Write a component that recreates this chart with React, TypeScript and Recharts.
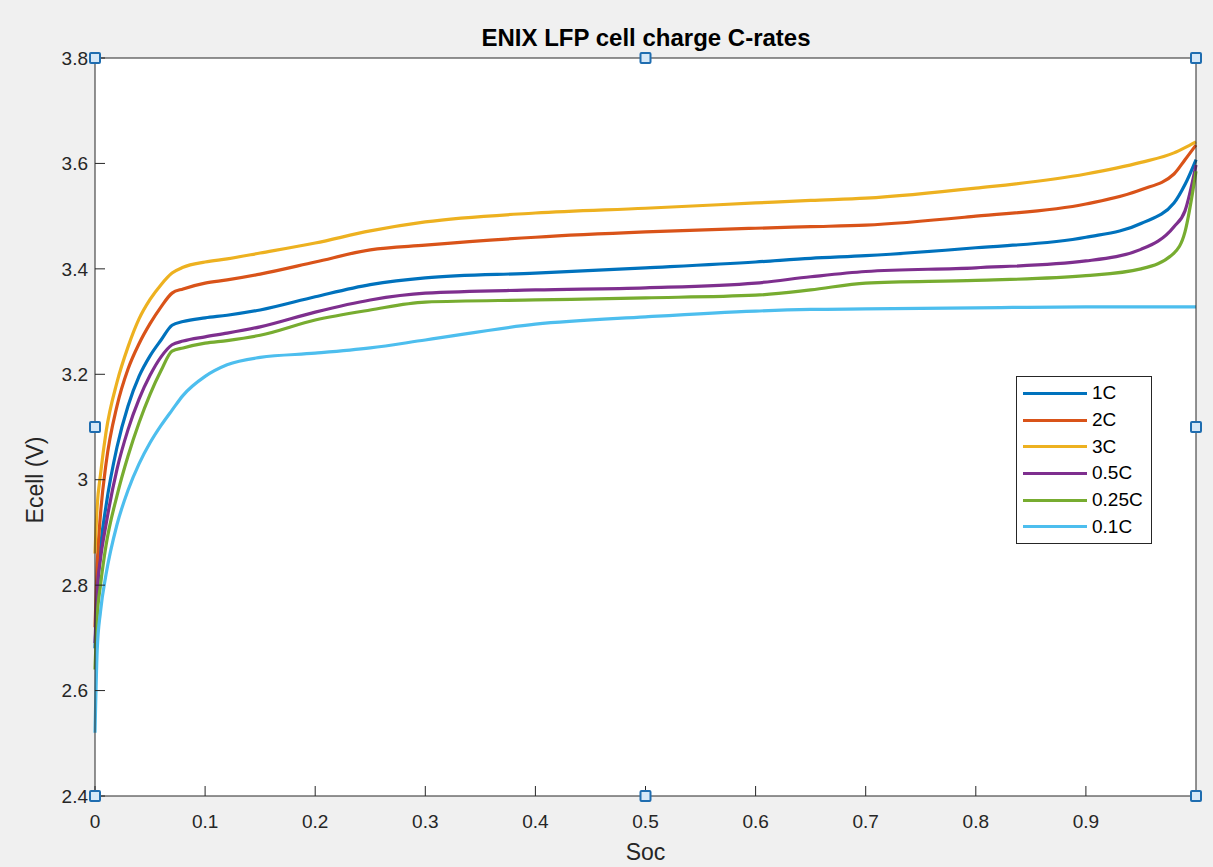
import { LineChart, Line, XAxis, YAxis, CartesianGrid, ReferenceDot, Label } from 'recharts'

// state of charge grid shared by all curves
const soc = [0, 0.002, 0.005, 0.01, 0.02, 0.03, 0.04, 0.05, 0.06, 0.07, 0.08, 0.1, 0.12, 0.15, 0.2, 0.25, 0.3, 0.4, 0.5, 0.6, 0.65, 0.7, 0.8, 0.9, 0.95, 0.98, 0.99, 1.0]

// cell voltage (V) per C-rate
const v1C = [2.68, 2.78, 2.87, 2.95, 3.062, 3.14, 3.196, 3.235, 3.265, 3.293, 3.3, 3.307, 3.312, 3.322, 3.347, 3.37, 3.383, 3.392, 3.402, 3.413, 3.42, 3.425, 3.44, 3.46, 3.486, 3.525, 3.56, 3.607]
const v2C = [2.72, 2.84, 2.935, 3.03, 3.14, 3.21, 3.258, 3.296, 3.328, 3.354, 3.362, 3.373, 3.379, 3.39, 3.413, 3.436, 3.445, 3.46, 3.47, 3.477, 3.48, 3.483, 3.5, 3.523, 3.55, 3.58, 3.607, 3.635]
const v3C = [2.86, 2.95, 3.01, 3.09, 3.185, 3.252, 3.305, 3.342, 3.37, 3.392, 3.403, 3.413, 3.419, 3.43, 3.449, 3.472, 3.489, 3.506, 3.515, 3.525, 3.53, 3.534, 3.553, 3.58, 3.602, 3.62, 3.63, 3.641]
const v05C = [2.69, 2.79, 2.85, 2.915, 3.02, 3.095, 3.153, 3.198, 3.233, 3.256, 3.263, 3.271, 3.278, 3.29, 3.318, 3.341, 3.354, 3.36, 3.364, 3.373, 3.385, 3.395, 3.402, 3.415, 3.437, 3.48, 3.51, 3.597]
const v025C = [2.64, 2.74, 2.8, 2.875, 2.97, 3.045, 3.108, 3.162, 3.207, 3.244, 3.25, 3.259, 3.264, 3.274, 3.303, 3.322, 3.337, 3.341, 3.345, 3.35, 3.36, 3.373, 3.378, 3.387, 3.4, 3.43, 3.47, 3.585]
const v01C = [2.52, 2.677, 2.75, 2.82, 2.915, 2.98, 3.03, 3.07, 3.103, 3.132, 3.16, 3.196, 3.218, 3.232, 3.24, 3.25, 3.265, 3.295, 3.309, 3.32, 3.323, 3.324, 3.326, 3.328, 3.328, 3.328, 3.328, 3.328]

const seriesNames = ['1C', '2C', '3C', '0.5C', '0.25C', '0.1C']
const seriesValues = [v1C, v2C, v3C, v05C, v025C, v01C]
const colors = ['#0072BD', '#D95319', '#EDB120', '#7E2F8E', '#77AC30', '#4DBEEE']

const xTicks = [0, 0.1, 0.2, 0.3, 0.4, 0.5, 0.6, 0.7, 0.8, 0.9]
const yTicks = [2.4, 2.6, 2.8, 3, 3.2, 3.4, 3.6, 3.8]

// selection handles around the axes box
const handleSoc = [0, 0.5, 1, 0, 1, 0, 0.5, 1]
const handleV = [3.8, 3.8, 3.8, 3.1, 3.1, 2.4, 2.4, 2.4]

const rows = soc.map((s, i) => {
  const r: Record<string, number> = { soc: s }
  seriesNames.forEach((n, k) => { r[n] = seriesValues[k][i] })
  return r
})

const FONT = '"Liberation Sans", Arial, Helvetica, sans-serif'
const AX = '#262626'

function LegendBox() {
  return (
    <div style={{ position: 'absolute', left: 1016, top: 376, border: `1px solid ${AX}`, background: '#fff', width: 134, padding: '3px 0', fontFamily: FONT, fontSize: 19, color: '#000' }}>
      {seriesNames.map((n, k) => (
        <div key={n} style={{ display: 'flex', alignItems: 'center', height: 26.7 }}>
          <div style={{ width: 64, height: 3, background: colors[k], marginLeft: 6, marginRight: 5 }} />
          <span>{n}</span>
        </div>
      ))}
    </div>
  )
}

const Handle = (p: any) => (
  <rect x={p.cx - 5} y={p.cy - 5} width={10} height={10} fill="#d6e8f7" stroke="#1f6db0" strokeWidth={2} rx={1} />
)

export default function App() {
  return (
    <div style={{ position: 'relative', width: 1213, height: 867, background: '#f0f0f0', fontFamily: FONT }}>
      <style>{`body{margin:0;background:#f0f0f0}`}</style>
      <LineChart width={1213} height={867} data={rows} margin={{ top: 57, right: 16, bottom: 0, left: 0 }}>
        <CartesianGrid horizontal={false} vertical={false} fill="#fff" />
        <XAxis dataKey="soc" type="number" domain={[0, 1]} ticks={xTicks} height={71}
          stroke={AX} tickSize={-10} tickMargin={29} tick={{ fill: AX, fontSize: 19, fontFamily: FONT }}>
          <Label value="Soc" position="insideBottom" offset={7} fill={AX} fontSize={23} fontFamily={FONT} />
        </XAxis>
        <XAxis xAxisId="top" orientation="top" dataKey="soc" type="number" domain={[0, 1]} ticks={xTicks}
          height={1} tick={false} tickSize={-10} stroke={AX} />
        <YAxis type="number" domain={[2.4, 3.8]} ticks={yTicks} width={95} stroke={AX}
          tickSize={-10} tickMargin={17} tick={{ fill: AX, fontSize: 19, fontFamily: FONT }}>
          <Label content={() => (
            <text x={43} y={480} transform="rotate(-90 43 480)" textAnchor="middle" fill={AX} fontSize={23} fontFamily={FONT}>Ecell (V)</text>
          )} />
        </YAxis>
        <YAxis yAxisId="right" orientation="right" type="number" domain={[2.4, 3.8]} ticks={yTicks}
          width={1} tick={false} tickSize={-10} stroke={AX} />
        {seriesNames.map((n, k) => (
          <Line key={n} dataKey={n} name={n} type="monotone" stroke={colors[k]} strokeWidth={3.2} dot={false} isAnimationActive={false} />
        ))}
        {handleSoc.map((s, i) => (
          <ReferenceDot key={i} x={s} y={handleV[i]} r={5} shape={Handle} />
        ))}
        <text x={646} y={46} textAnchor="middle" fontWeight="bold" fontSize={24} fontFamily={FONT} fill="#000">ENIX LFP cell charge C-rates</text>
      </LineChart>
      <LegendBox />
    </div>
  )
}
